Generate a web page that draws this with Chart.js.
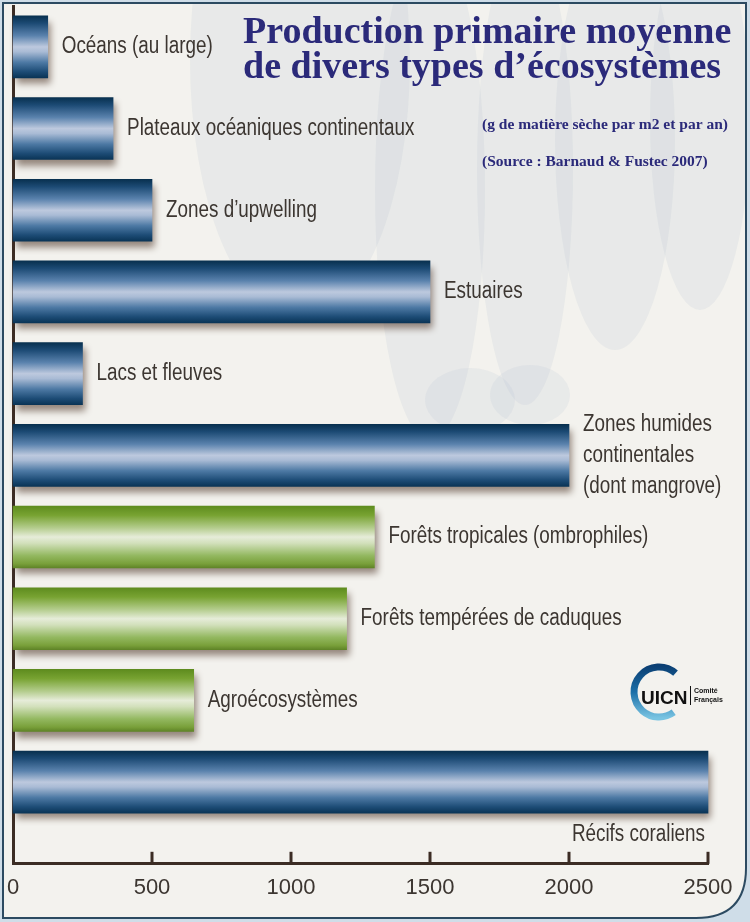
<!DOCTYPE html>
<html lang="fr">
<head>
<meta charset="utf-8">
<title>Production primaire moyenne</title>
<script src="https://cdn.jsdelivr.net/npm/chart.js@4.4.1/dist/chart.umd.min.js"></script>
<style>
  html, body { margin: 0; padding: 0; background: #cfdde8; }
  #wrap { position: relative; width: 750px; height: 922px; }
</style>
</head>
<body>
<div id="wrap"><canvas id="prod"></canvas></div>
<script>
// --- data (g de matière sèche / m2 / an) ---
const categories = [
  'Océans (au large)',
  'Plateaux océaniques continentaux',
  'Zones d’upwelling',
  'Estuaires',
  'Lacs et fleuves',
  ['Zones humides', 'continentales', '(dont mangrove)'],
  'Forêts tropicales (ombrophiles)',
  'Forêts tempérées de caduques',
  'Agroécosystèmes',
  'Récifs coraliens',
];
const values = [125, 360, 500, 1500, 250, 2000, 1300, 1200, 650, 2500];
const milieux = ['aquatique', 'aquatique', 'aquatique', 'aquatique', 'aquatique',
                 'aquatique', 'terrestre', 'terrestre', 'terrestre', 'aquatique'];
const xTicks = [0, 500, 1000, 1500, 2000, 2500];

const titleLines = ['Production primaire moyenne', 'de divers types d’écosystèmes'];
const unitNote = '(g de matière sèche par m2 et par an)';
const sourceNote = '(Source : Barnaud & Fustec 2007)';

// --- style ---
const INK = '#3b2c24';
const TEXT = '#3c3631';
const NAVY = '#2b2a7a';
const SANS = '"Liberation Sans", Arial, sans-serif';
const SERIF = '"Liberation Serif", "DejaVu Serif", serif';
const NARROW = 0.82;   // Arial Narrow look: squeeze Arial metrics horizontally
const BAR_H = 62;

const BLUE = [[0, '#08304f'], [0.12, '#1c4a74'], [0.32, '#5a82ad'], [0.5, '#bdc9de'],
              [0.58, '#a9bbd5'], [0.75, '#4d79a4'], [0.9, '#1d4c76'], [1, '#0a3456']];
const GREEN = [[0, '#5e8c1e'], [0.15, '#78a332'], [0.35, '#b3cc8c'], [0.5, '#e6ecd9'],
               [0.6, '#d2e0bb'], [0.8, '#93b860'], [0.93, '#79a03a'], [1, '#5f8427']];

function barFill(c) {
  const solid = milieux[c.dataIndex] === 'terrestre' ? '#8db34f' : '#1d4f7c';
  if (c.type !== 'data') return solid;
  const y = c.chart.scales.y;
  const mid = y ? y.getPixelForValue(c.dataIndex) : NaN;
  if (!Number.isFinite(mid)) return solid;
  const g = c.chart.ctx.createLinearGradient(0, mid - BAR_H / 2, 0, mid + BAR_H / 2);
  (milieux[c.dataIndex] === 'terrestre' ? GREEN : BLUE).forEach(([o, col]) => g.addColorStop(o, col));
  return g;
}

function narrowText(ctx, text, x, y) {
  ctx.save();
  ctx.translate(x, y);
  ctx.scale(NARROW, 1);
  ctx.fillText(text, 0, 0);
  ctx.restore();
}

// background, faint decor and frame
const frame = {
  id: 'frame',
  beforeDraw(chart) {
    const { ctx, width: W, height: H } = chart;
    const r = 50;
    const path = new Path2D();
    path.moveTo(3, 3);
    path.lineTo(W - 4, 3);
    path.lineTo(W - 4, H - 4 - r);
    path.quadraticCurveTo(W - 4, H - 4, W - 4 - r, H - 4);
    path.lineTo(3, H - 4);
    path.closePath();

    ctx.save();
    ctx.fillStyle = '#cfdde8';
    ctx.fillRect(0, 0, W, H);
    ctx.fillStyle = '#f3f2ee';
    ctx.fill(path);
    ctx.clip(path);
    ctx.fillStyle = 'rgba(175,188,205,0.17)';
    [[300, 60, 110, 260], [430, 190, 55, 250], [525, 170, 48, 235], [615, 140, 60, 210], [700, 120, 50, 190]]
      .forEach(([x, y, rx, ry]) => { ctx.beginPath(); ctx.ellipse(x, y, rx, ry, 0, 0, Math.PI * 2); ctx.fill(); });
    ctx.fillStyle = 'rgba(175,188,205,0.15)';
    [[470, 400, 45, 32], [530, 395, 40, 30]]
      .forEach(([x, y, rx, ry]) => { ctx.beginPath(); ctx.ellipse(x, y, rx, ry, 0, 0, Math.PI * 2); ctx.fill(); });
    ctx.restore();

    ctx.save();
    ctx.lineWidth = 2;
    ctx.strokeStyle = '#2c4a61';
    ctx.stroke(path);
    ctx.restore();
  },
};

// soft brown shadow under the bars
const barShadow = {
  id: 'barShadow',
  beforeDatasetsDraw(chart) {
    const c = chart.ctx;
    c.save();
    c.shadowColor = 'rgba(70,45,30,0.55)';
    c.shadowBlur = 7;
    c.shadowOffsetX = 3;
    c.shadowOffsetY = 6;
  },
  afterDatasetsDraw(chart) { chart.ctx.restore(); },
};

// category names next to each bar (under it when there is no room)
const barLabels = {
  id: 'barLabels',
  afterDatasetsDraw(chart) {
    const { ctx } = chart;
    const meta = chart.getDatasetMeta(0);
    ctx.save();
    ctx.fillStyle = TEXT;
    ctx.font = `23px ${SANS}`;
    ctx.textBaseline = 'middle';
    meta.data.forEach((bar, i) => {
      const lines = [].concat(categories[i]);
      const w = NARROW * Math.max(...lines.map(l => ctx.measureText(l).width));
      if (bar.x + 14 + w > chart.width - 8) {
        ctx.textAlign = 'right';
        narrowText(ctx, lines[0], bar.x - 3, bar.y + bar.height / 2 + 22);
      } else {
        ctx.textAlign = 'left';
        lines.forEach((l, k) => narrowText(ctx, l, bar.x + 14, bar.y + (k - (lines.length - 1) / 2) * 31));
      }
    });
    ctx.restore();
  },
};

// tick marks pointing up into the plot, title, notes and logo
const decorations = {
  id: 'decorations',
  afterDraw(chart) {
    const { ctx, chartArea } = chart;
    const x = chart.scales.x;
    ctx.save();
    ctx.strokeStyle = INK;
    ctx.lineWidth = 3;
    xTicks.slice(1).forEach(v => {
      const px = x.getPixelForValue(v);
      ctx.beginPath();
      ctx.moveTo(px, chartArea.bottom);
      ctx.lineTo(px, chartArea.bottom - 12);
      ctx.stroke();
    });

    ctx.fillStyle = NAVY;
    ctx.textAlign = 'left';
    ctx.textBaseline = 'alphabetic';
    ctx.font = `bold 38px ${SERIF}`;
    ctx.fillText(titleLines[0], 243, 43);
    ctx.fillText(titleLines[1], 243, 78);
    ctx.font = `bold 15.5px ${SERIF}`;
    ctx.textBaseline = 'middle';
    ctx.fillText(unitNote, 482, 125);
    ctx.fillText(sourceNote, 482, 162);

    // UICN logo
    const g = ctx.createLinearGradient(0, 666, 0, 718);
    g.addColorStop(0, '#0b3f73');
    g.addColorStop(0.5, '#1b6fa8');
    g.addColorStop(1, '#79c4e2');
    ctx.strokeStyle = g;
    ctx.lineWidth = 7;
    ctx.beginPath();
    ctx.arc(659, 692, 25, -0.27 * Math.PI, 0.3 * Math.PI, true);
    ctx.stroke();
    ctx.fillStyle = '#111';
    ctx.font = `bold 19px ${SANS}`;
    ctx.textBaseline = 'alphabetic';
    ctx.fillText('UICN', 641, 704);
    ctx.fillRect(690, 686, 1, 19);
    ctx.font = `bold 7px ${SANS}`;
    ctx.fillText('Comité', 694, 693);
    ctx.fillText('Français', 694, 702);
    ctx.restore();
  },
};

new Chart(document.getElementById('prod'), {
  type: 'bar',
  data: {
    datasets: [{
      data: values.map((v, i) => ({ x: v, y: i })),
      backgroundColor: barFill,
      borderWidth: 0,
      barThickness: BAR_H,
      clip: false,
    }],
  },
  options: {
    indexAxis: 'y',
    animation: false,
    responsive: true,
    maintainAspectRatio: false,
    layout: { padding: { left: 13, right: 42, top: 6, bottom: 10 } },
    plugins: {
      legend: { display: false },
      tooltip: { enabled: false },
    },
    scales: {
      x: {
        type: 'linear',
        min: 0,
        max: 2500,
        position: 'bottom',
        z: 1,
        afterBuildTicks: s => { s.ticks = xTicks.map(v => ({ value: v })); },
        grid: { display: false, drawTicks: false },
        border: { display: true, color: INK, width: 3 },
        ticks: {
          padding: 1, color: TEXT, maxRotation: 0,
          font: { family: SANS, size: 22, lineHeight: 2.1 },
          callback: v => String(v),
        },
      },
      y: {
        type: 'linear',
        min: -0.5,
        max: 10,
        reverse: true,
        offset: false,
        z: 1,
        grid: { display: false, drawTicks: false },
        border: { display: true, color: INK, width: 3 },
        ticks: { display: false },
      },
    },
  },
  plugins: [frame, barShadow, barLabels, decorations],
});
</script>
</body>
</html>
